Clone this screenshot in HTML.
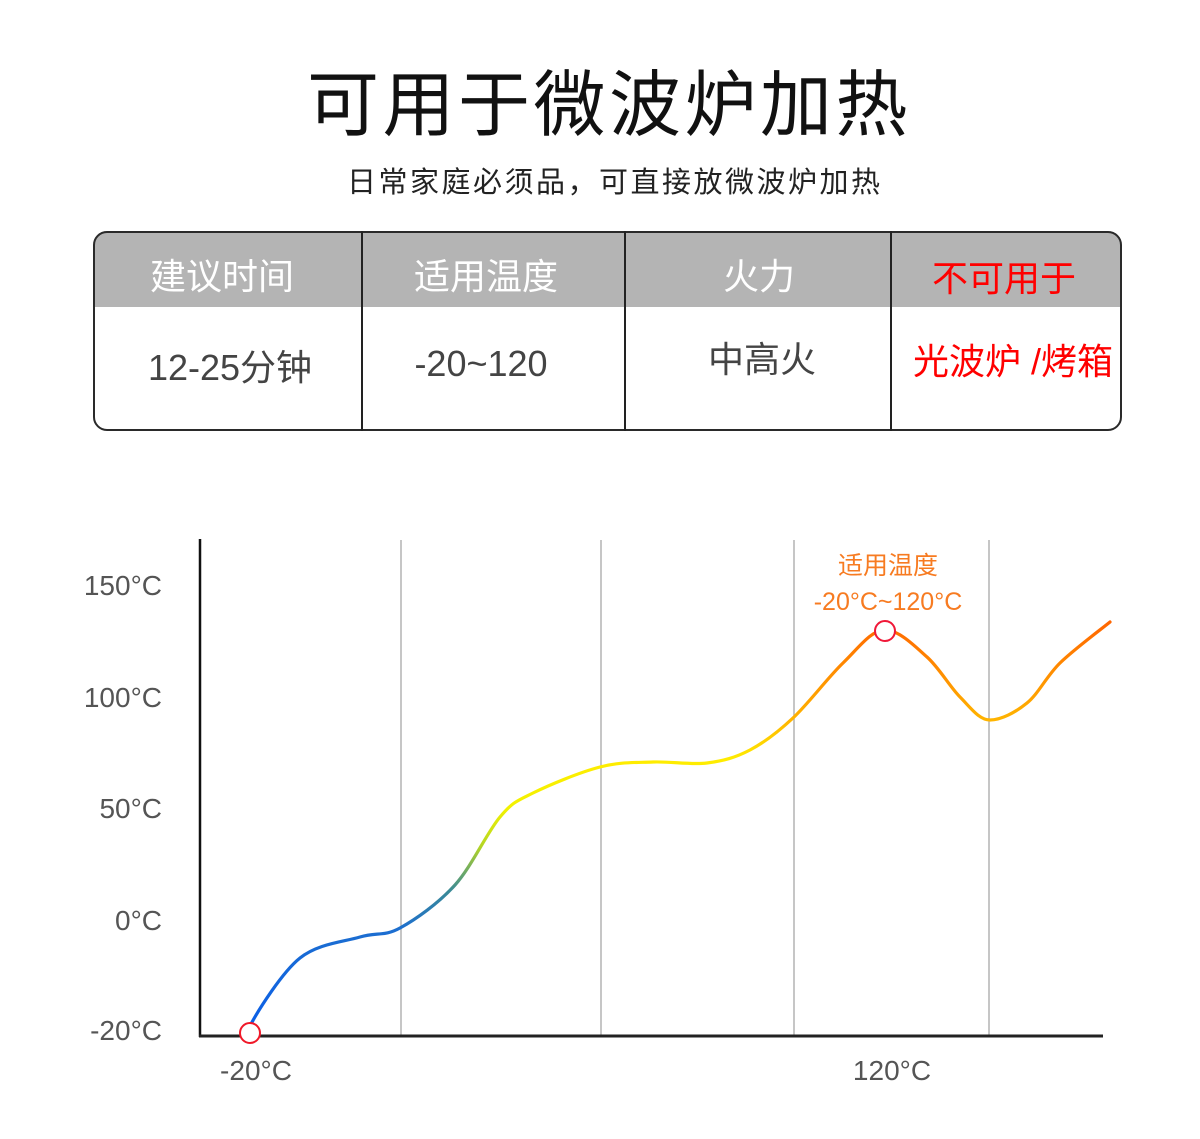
<!DOCTYPE html>
<html>
<head>
<meta charset="utf-8">
<style>
html,body{margin:0;padding:0;background:#fff;}
svg{display:block;}
text{font-family:"Liberation Sans","Noto Sans CJK SC",sans-serif;}
</style>
</head>
<body>
<svg width="1200" height="1139" viewBox="0 0 1200 1139" xmlns="http://www.w3.org/2000/svg">
<rect x="0" y="0" width="1200" height="1139" fill="#fff"/>

<!-- Title -->
<text x="307" y="130" font-size="72" fill="#111" letter-spacing="3.5">可用于微波炉加热</text>
<text x="347" y="192" font-size="29" fill="#222" letter-spacing="2.5">日常家庭必须品，可直接放微波炉加热</text>

<!-- Table -->
<defs>
<clipPath id="tbl"><rect x="93" y="231" width="1029" height="200" rx="14" ry="14"/></clipPath>
<linearGradient id="curveGrad" gradientUnits="userSpaceOnUse" x1="0" y1="620" x2="0" y2="1030">
  <stop offset="0" stop-color="#ff6400"/>
  <stop offset="0.244" stop-color="#ffb400"/>
  <stop offset="0.34" stop-color="#ffec00"/>
  <stop offset="0.46" stop-color="#f2f200"/>
  <stop offset="0.55" stop-color="#b5d623"/>
  <stop offset="0.66" stop-color="#3a8a96"/>
  <stop offset="0.756" stop-color="#1c6ed0"/>
  <stop offset="1" stop-color="#0a5ee8"/>
</linearGradient>
</defs>
<g clip-path="url(#tbl)">
  <rect x="93" y="231" width="1029" height="76" fill="#b4b4b4"/>
</g>
<rect x="94" y="232" width="1027" height="198" rx="13" ry="13" fill="none" stroke="#2a2a2a" stroke-width="2"/>
<line x1="362" y1="231" x2="362" y2="431" stroke="#222" stroke-width="2"/>
<line x1="625" y1="231" x2="625" y2="431" stroke="#222" stroke-width="2"/>
<line x1="891" y1="231" x2="891" y2="431" stroke="#222" stroke-width="2"/>

<text x="222" y="289" font-size="36" fill="#fff" text-anchor="middle">建议时间</text>
<text x="486" y="289" font-size="36" fill="#fff" text-anchor="middle">适用温度</text>
<text x="759" y="289" font-size="36" fill="#fff" text-anchor="middle">火力</text>
<text x="1004" y="291" font-size="36" fill="#ff0000" text-anchor="middle">不可用于</text>

<text x="230" y="380" font-size="36" fill="#444" text-anchor="middle">12-25分钟</text>
<text x="481" y="376" font-size="36" fill="#444" text-anchor="middle">-20~120</text>
<text x="762" y="372" font-size="36" fill="#444" text-anchor="middle">中高火</text>
<text x="1013" y="374" font-size="36" fill="#ff0000" text-anchor="middle">光波炉 /烤箱</text>

<!-- Chart grid -->
<g stroke="#b3b3b3" stroke-width="1.5">
  <line x1="401" y1="540" x2="401" y2="1036"/>
  <line x1="601" y1="540" x2="601" y2="1036"/>
  <line x1="794" y1="540" x2="794" y2="1036"/>
  <line x1="989" y1="540" x2="989" y2="1036"/>
</g>
<line x1="200" y1="539" x2="200" y2="1037" stroke="#111" stroke-width="2.5"/>
<line x1="199" y1="1036" x2="1103" y2="1036" stroke="#222" stroke-width="3"/>

<!-- Y labels -->
<g font-size="28" fill="#555" text-anchor="end">
  <text x="162" y="595">150°C</text>
  <text x="162" y="707">100°C</text>
  <text x="162" y="818">50°C</text>
  <text x="162" y="930">0°C</text>
  <text x="162" y="1040">-20°C</text>
</g>
<!-- X labels -->
<g font-size="28" fill="#555" text-anchor="middle">
  <text x="256" y="1080">-20°C</text>
  <text x="892" y="1080">120°C</text>
</g>

<!-- Curve -->
<path fill="none" stroke="url(#curveGrad)" stroke-width="3.2" stroke-linecap="round" d="
M251,1024
C 258,1011 281.8,972.5 300,958
C 318.2,943.5 343.3,942 360,937
C 376.7,932 384.2,936.7 400,928
C 415.8,919.3 438.3,903.5 455,885
C 471.7,866.5 487,832.3 500,817
C 513,801.7 516.3,801.3 533,793
C 549.7,784.7 580,772.2 600,767
C 620,761.8 635.2,762.7 653,762
C 670.8,761.3 690.8,765 707,763
C 723.2,761 735.7,757.5 750,750
C 764.3,742.5 777.5,732.5 793,718
C 808.5,703.5 827.7,677.7 843,663
C 858.3,648.3 871,630 885,630
C 899,630 914.5,645.8 927,657
C 939.5,668.2 949.5,686.5 960,697
C 970.5,707.5 979,720 990,720
C 1001,720 1015.3,712.5 1027,703
C 1038.7,693.5 1046.2,676.5 1060,663
C 1073.8,649.5 1101.7,628.8 1110,622"/>

<!-- Markers -->
<circle cx="250" cy="1033" r="10" fill="#fff" stroke="#f01828" stroke-width="2"/>
<circle cx="885" cy="631" r="10" fill="#fff" stroke="#f01838" stroke-width="2"/>

<!-- Annotation -->
<text x="888" y="574" font-size="25" fill="#f77b21" text-anchor="middle">适用温度</text>
<text x="888" y="610" font-size="25" fill="#f77b21" text-anchor="middle">-20°C~120°C</text>
</svg>
</body>
</html>
